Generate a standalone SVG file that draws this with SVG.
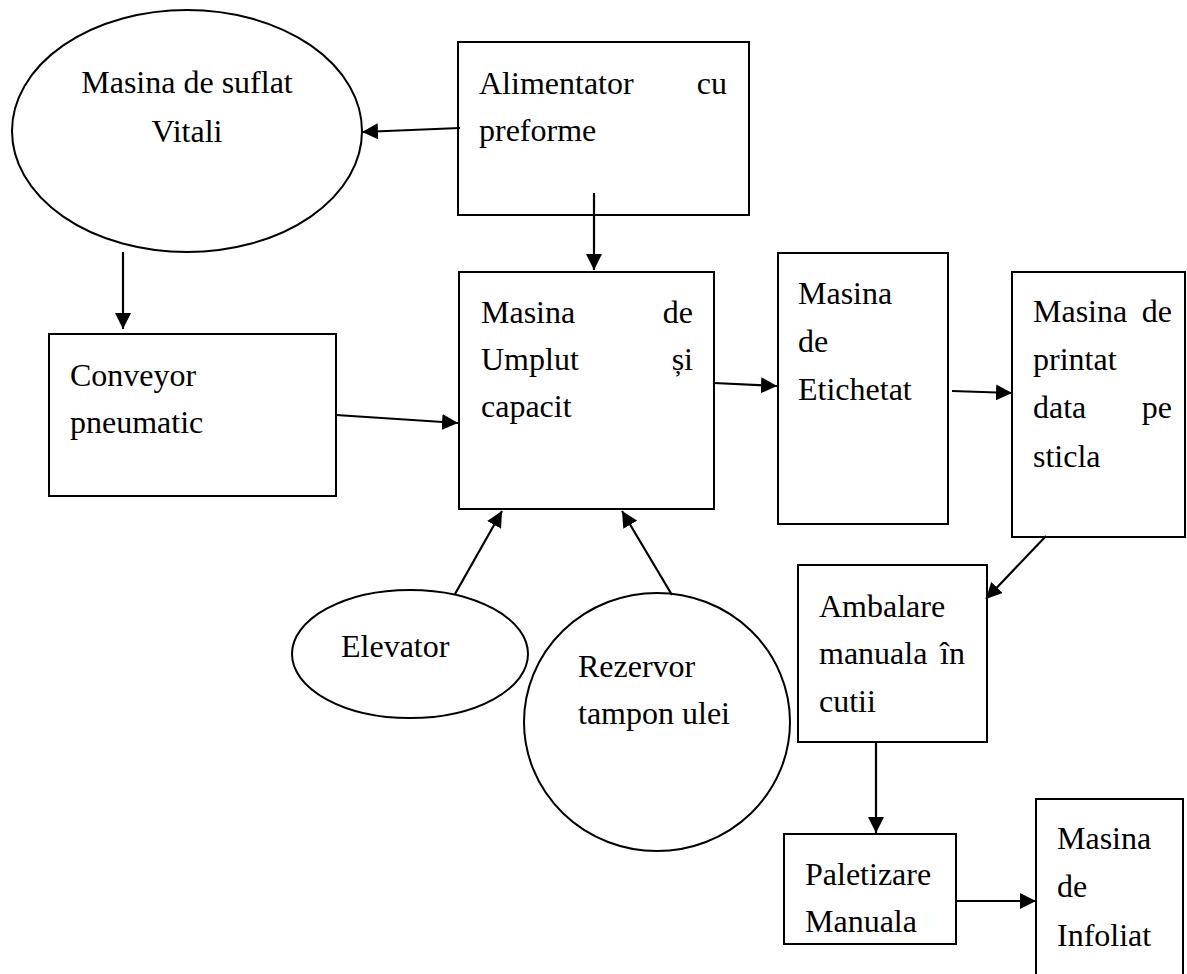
<svg xmlns="http://www.w3.org/2000/svg" width="1187" height="974" viewBox="0 0 1187 974">
  <style>
    .shape { fill: #fff; stroke: #000; stroke-width: 2; }
    .lbl { font-family: "Liberation Serif", "Times New Roman", serif; font-size: 32px; fill: #000; }
    .end { text-anchor: end; }
    .mid { text-anchor: middle; }
    .edge { fill: none; stroke: #000; stroke-width: 2.2; marker-end: url(#head); }
  </style>
  <defs>
    <marker id="head" markerUnits="userSpaceOnUse" markerWidth="17" markerHeight="16" refX="16" refY="8" orient="auto">
      <path d="M0,0 L16,8 L0,16 z" fill="#000"/>
    </marker>
  </defs>
  <rect width="1187" height="974" fill="#fff"/>

  <g id="masina-suflat">
    <ellipse class="shape" cx="187" cy="131" rx="175" ry="121"/>
    <text class="lbl mid" x="187" y="93">Masina de suflat</text>
    <text class="lbl mid" x="187" y="142">Vitali</text>
  </g>

  <g id="alimentator">
    <rect class="shape" x="458" y="42" width="291" height="173"/>
    <text class="lbl" x="479" y="94">Alimentator</text>
    <text class="lbl end" x="727" y="94">cu</text>
    <text class="lbl" x="479" y="141">preforme</text>
  </g>

  <g id="conveyor">
    <rect class="shape" x="49" y="334" width="287" height="162"/>
    <text class="lbl" x="70" y="386">Conveyor</text>
    <text class="lbl" x="70" y="433">pneumatic</text>
  </g>

  <g id="masina-umplut">
    <rect class="shape" x="459" y="272" width="255" height="237"/>
    <text class="lbl" x="481" y="323">Masina</text>
    <text class="lbl end" x="693" y="323">de</text>
    <text class="lbl" x="481" y="370">Umplut</text>
    <text class="lbl end" x="693" y="370">și</text>
    <text class="lbl" x="481" y="417">capacit</text>
  </g>

  <g id="masina-etichetat">
    <rect class="shape" x="778" y="253" width="170" height="271"/>
    <text class="lbl" x="798" y="304">Masina</text>
    <text class="lbl" x="798" y="352">de</text>
    <text class="lbl" x="798" y="400">Etichetat</text>
  </g>

  <g id="masina-printat">
    <rect class="shape" x="1012" y="272" width="173" height="265"/>
    <text class="lbl" x="1033" y="322">Masina</text>
    <text class="lbl end" x="1172" y="322">de</text>
    <text class="lbl" x="1033" y="370">printat</text>
    <text class="lbl" x="1033" y="418">data</text>
    <text class="lbl end" x="1172" y="418">pe</text>
    <text class="lbl" x="1033" y="467">sticla</text>
  </g>

  <g id="elevator">
    <ellipse class="shape" cx="410" cy="654" rx="118" ry="64"/>
    <text class="lbl" x="341" y="657">Elevator</text>
  </g>

  <g id="rezervor">
    <ellipse class="shape" cx="657" cy="722" rx="133" ry="129"/>
    <text class="lbl" x="578" y="677">Rezervor</text>
    <text class="lbl" x="578" y="724">tampon ulei</text>
  </g>

  <g id="ambalare">
    <rect class="shape" x="798" y="565" width="189" height="177"/>
    <text class="lbl" x="819" y="617">Ambalare</text>
    <text class="lbl" x="819" y="664">manuala</text>
    <text class="lbl end" x="965" y="664">în</text>
    <text class="lbl" x="819" y="712">cutii</text>
  </g>

  <g id="paletizare">
    <rect class="shape" x="784" y="834" width="172" height="110"/>
    <text class="lbl" x="805" y="885">Paletizare</text>
    <text class="lbl" x="805" y="932">Manuala</text>
  </g>

  <g id="masina-infoliat">
    <rect class="shape" x="1036" y="799" width="147" height="190"/>
    <text class="lbl" x="1057" y="849">Masina</text>
    <text class="lbl" x="1057" y="897">de</text>
    <text class="lbl" x="1057" y="946">Infoliat</text>
  </g>

  <g id="connectors">
    <line class="edge" x1="460" y1="128" x2="362" y2="132"/>
    <line class="edge" x1="123" y1="252" x2="123" y2="329"/>
    <line class="edge" x1="594" y1="193" x2="594" y2="270"/>
    <line class="edge" x1="336" y1="415" x2="458" y2="423"/>
    <line class="edge" x1="714" y1="383" x2="777" y2="386"/>
    <line class="edge" x1="952" y1="391" x2="1012" y2="393"/>
    <line class="edge" x1="455" y1="594" x2="502" y2="511"/>
    <line class="edge" x1="672" y1="595" x2="622" y2="511"/>
    <line class="edge" x1="1046" y1="536" x2="986" y2="599"/>
    <line class="edge" x1="876" y1="742" x2="876" y2="833"/>
    <line class="edge" x1="956" y1="901" x2="1036" y2="901"/>
  </g>
</svg>
